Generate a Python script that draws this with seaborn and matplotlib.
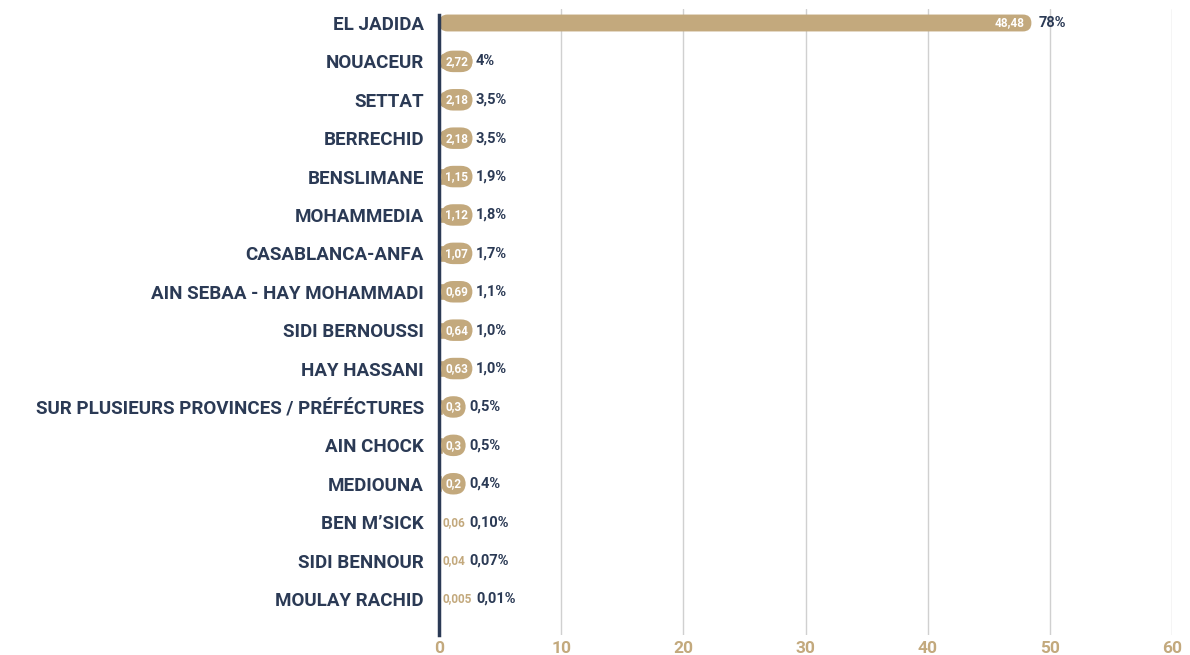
import matplotlib
matplotlib.use("Agg")
import matplotlib.pyplot as plt
import seaborn as sns
import pandas as pd
from matplotlib.patches import FancyBboxPatch

# Data
provinces = ["EL JADIDA", "NOUACEUR", "SETTAT", "BERRECHID", "BENSLIMANE",
             "MOHAMMEDIA", "CASABLANCA-ANFA", "AIN SEBAA - HAY MOHAMMADI",
             "SIDI BERNOUSSI", "HAY HASSANI",
             "SUR PLUSIEURS PROVINCES / PRÉFÉCTURES", "AIN CHOCK", "MEDIOUNA",
             "BEN M\u2019SICK", "SIDI BENNOUR", "MOULAY RACHID"]
values = [48.48, 2.72, 2.18, 2.18, 1.15, 1.12, 1.07, 0.69, 0.64, 0.63,
          0.3, 0.3, 0.2, 0.06, 0.04, 0.005]
value_labels = ["48,48", "2,72", "2,18", "2,18", "1,15", "1,12", "1,07", "0,69",
                "0,64", "0,63", "0,3", "0,3", "0,2", "0,06", "0,04", "0,005"]
shares = ["78%", "4%", "3,5%", "3,5%", "1,9%", "1,8%", "1,7%", "1,1%", "1,0%",
          "1,0%", "0,5%", "0,5%", "0,4%", "0,10%", "0,07%", "0,01%"]
x_ticks = [0, 10, 20, 30, 40, 50, 60]

TAN = "#C3A97D"
NAVY = "#2B3A55"
GRID = "#D0D0D0"

df = pd.DataFrame({"province": provinces, "value": values})

sns.set_style("white")
plt.rcParams["font.family"] = ["Roboto", "DejaVu Sans"]

fig = plt.figure(figsize=(11.9, 6.55), dpi=100)
ax = fig.add_axes([0.369, 0.0305, 0.616, 0.9555])

sns.barplot(data=df, x="value", y="province", color=TAN, width=0.44,
            saturation=1, ax=ax, orient="h")

# round the ends of the long bar(s)
px_per_unit = 0.616 * 1190 / 60
for p in list(ax.patches):
    x0, y0, w, h = p.get_x(), p.get_y(), p.get_width(), p.get_height()
    r = (h * 38.4 / 2) / px_per_unit
    if w > 2 * r:
        rp = FancyBboxPatch((x0, y0), w, h,
                            boxstyle=f"round,pad=0,rounding_size={r}",
                            mutation_aspect=(h / 2) / r,
                            fc=TAN, ec="none", zorder=2)
        p.remove()
        ax.add_patch(rp)

ax.set_xlim(0, 60)
ax.set_ylim(15.94, -0.36)
ax.set_xticks(x_ticks)
ax.set_xticklabels([str(t) for t in x_ticks], color=TAN, fontsize=12.5,
                   fontweight="bold")
ax.tick_params(axis="x", length=0, pad=4)
ax.tick_params(axis="y", length=0, pad=11)
for lab in ax.get_yticklabels():
    lab.set_color(NAVY)
    lab.set_fontweight("bold")
    lab.set_fontsize(13.5)
ax.set_xlabel("")
ax.set_ylabel("")

for t in x_ticks[1:]:
    ax.axvline(t, color=GRID, lw=1, zorder=0)

for s in ["top", "right", "bottom"]:
    ax.spines[s].set_visible(False)
ax.spines["left"].set_color(NAVY)
ax.spines["left"].set_linewidth(2.5)
ax.spines["left"].set_zorder(5)
ax.spines["left"].set_bounds(-0.2, 15.94)

for i, (v, vl, sh) in enumerate(zip(values, value_labels, shares)):
    if i == 0:
        t = ax.annotate(vl, xy=(v, i), xytext=(-5, 0), textcoords="offset points",
                        ha="right", va="center", color="white", fontsize=8.5,
                        fontweight="bold", zorder=6)
        ax.annotate(sh, xy=(v, i), xytext=(5, 0), textcoords="offset points",
                    ha="left", va="center", color=NAVY, fontsize=10.5,
                    fontweight="bold")
        continue
    if v >= 0.1:
        t = ax.annotate(vl, xy=(0, i), xytext=(4.5, 0), textcoords="offset points",
                        ha="left", va="center", color="white", fontsize=8.5,
                        fontweight="bold", zorder=6,
                        bbox=dict(boxstyle="round,pad=0.36,rounding_size=1.0",
                                  fc=TAN, ec="none"))
        off = 5.5
    else:
        t = ax.annotate(vl, xy=(0, i), xytext=(2.5, 0), textcoords="offset points",
                        ha="left", va="center", color=TAN, fontsize=8.5,
                        fontweight="bold", zorder=6)
        off = 3
    ax.annotate(sh, xy=(1, 0.5), xycoords=t, xytext=(off, 0),
                textcoords="offset points", ha="left", va="center",
                color=NAVY, fontsize=10.5, fontweight="bold")

fig.savefig("out.png", dpi=100)
plt.close(fig)
